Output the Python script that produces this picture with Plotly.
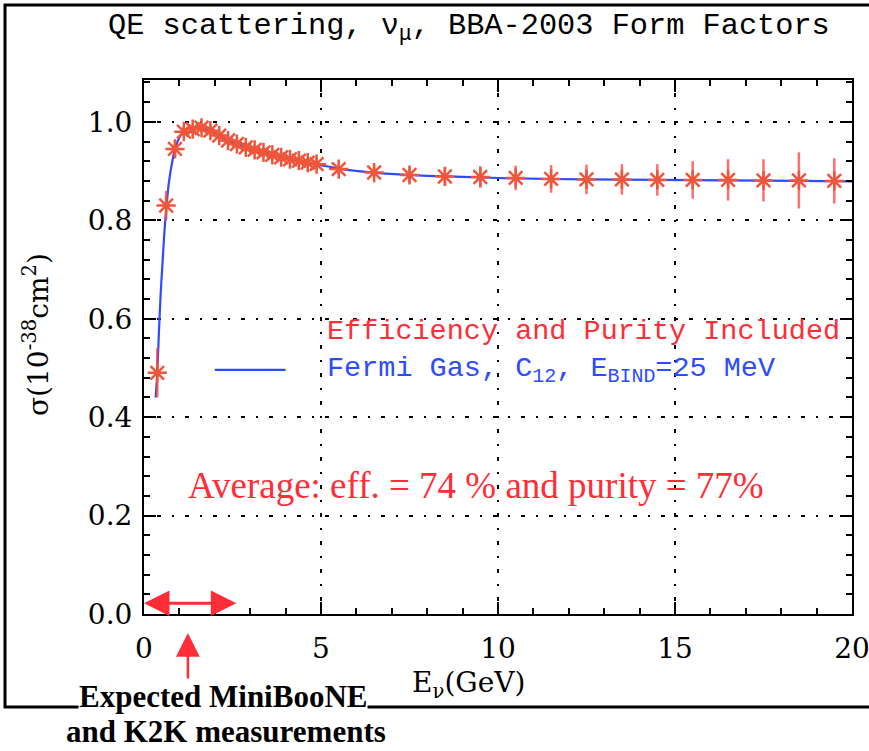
import plotly.graph_objects as go

# Measured QE cross section (efficiency and purity included), bin centres in GeV
e_meas = [0.375, 0.625, 0.875, 1.125, 1.375, 1.625, 1.875, 2.125, 2.375, 2.625,
          2.875, 3.125, 3.375, 3.625, 3.875, 4.125, 4.375, 4.625, 4.875,
          5.5, 6.5, 7.5, 8.5, 9.5, 10.5, 11.5, 12.5, 13.5, 14.5, 15.5,
          16.5, 17.5, 18.5, 19.5]
sigma_meas = [0.490, 0.830, 0.945, 0.980, 0.985, 0.988, 0.982, 0.972, 0.962, 0.955,
              0.948, 0.943, 0.938, 0.933, 0.928, 0.924, 0.921, 0.917, 0.914,
              0.904, 0.897, 0.892, 0.889, 0.888, 0.886, 0.884, 0.883, 0.883,
              0.882, 0.882, 0.882, 0.881, 0.881, 0.880]
sigma_err = [0.050, 0.030, 0.018, 0.010, 0.010, 0.010, 0.010, 0.010, 0.010, 0.010,
             0.010, 0.010, 0.010, 0.010, 0.010, 0.010, 0.010, 0.010, 0.012,
             0.010, 0.012, 0.016, 0.019, 0.022, 0.025, 0.028, 0.030, 0.031,
             0.032, 0.038, 0.042, 0.043, 0.057, 0.046]

# Fermi gas prediction, C12 with 25 MeV binding energy
e_fg = [0.33, 0.375, 0.42, 0.47, 0.52, 0.58, 0.625, 0.70, 0.80, 0.875, 1.0,
        1.125, 1.25, 1.4, 1.6, 1.85, 2.1, 2.35, 2.6, 3.1, 3.6, 4.1, 4.6, 5.0,
        5.5, 6.5, 7.5, 8.5, 9.5, 10.5, 12.5, 14.5, 16.5, 18.5, 20.0]
sigma_fg = [0.440, 0.490, 0.570, 0.650, 0.710, 0.780, 0.820, 0.875, 0.920, 0.945,
            0.968, 0.980, 0.986, 0.989, 0.988, 0.982, 0.972, 0.962, 0.955, 0.943,
            0.933, 0.924, 0.917, 0.912, 0.905, 0.897, 0.892, 0.889, 0.887, 0.885,
            0.883, 0.882, 0.881, 0.880, 0.879]

x_ticks = [0, 5, 10, 15, 20]
y_ticks = [0.0, 0.2, 0.4, 0.6, 0.8, 1.0]

RED = "rgb(255,45,55)"
BLUE = "rgb(45,75,255)"
AX_FONT = dict(family="DejaVu Serif", size=28, color="black")
MONO = "Liberation Mono"

# plot-area geometry in pixels
L, R, T, B = 144, 17, 80, 137
W, H = 869, 751
PW, PH = W - L - R, H - T - B


def px(xp):
    return (xp - L) / PW


def py(yp):
    return (H - B - yp) / PH


fig = go.Figure()

fig.add_trace(go.Scatter(
    x=e_fg, y=sigma_fg, mode="lines",
    line=dict(color=BLUE, width=2.2, shape="spline", smoothing=0.6),
    showlegend=False, hoverinfo="skip"))

fig.add_trace(go.Scatter(
    x=e_meas, y=sigma_meas, mode="markers",
    marker=dict(symbol="asterisk-open", size=16,
                line=dict(color=RED, width=2.5)),
    error_y=dict(type="data", array=sigma_err, visible=True,
                 color="rgba(255,60,60,0.75)", thickness=2.5, width=0),
    showlegend=False))

grid_dash = "2px,11px,4px,11px"
fig.update_xaxes(
    range=[0, 20], tickvals=x_ticks, ticktext=[str(v) for v in x_ticks],
    ticks="inside", ticklen=12, tickwidth=2, tickcolor="black",
    minor=dict(dtick=1, ticks="inside", ticklen=6, tickwidth=1.5,
               tickcolor="black", showgrid=False),
    showline=True, linewidth=2, linecolor="black", mirror="ticks",
    showgrid=True, gridcolor="black", gridwidth=1.5, griddash=grid_dash,
    zeroline=False, tickfont=AX_FONT, ticklabelstandoff=8,
    ticklabeloverflow="allow", automargin=False)
fig.update_yaxes(
    range=[0, 1.085], tickvals=y_ticks, ticktext=[f"{v:.1f}" for v in y_ticks],
    ticks="inside", ticklen=12, tickwidth=2, tickcolor="black",
    minor=dict(dtick=0.04, ticks="inside", ticklen=6, tickwidth=1.5,
               tickcolor="black", showgrid=False),
    showline=True, linewidth=2, linecolor="black", mirror="ticks",
    showgrid=True, gridcolor="black", gridwidth=1.5, griddash=grid_dash,
    zeroline=False, tickfont=AX_FONT, ticklabelstandoff=4, automargin=False)


def label(text, x, y, font, **kw):
    d = dict(text=text, xref="paper", yref="paper", x=x, y=y,
             xanchor="center", yanchor="middle", showarrow=False, font=font)
    d.update(kw)
    return d


annotations = [
    label("QE scattering, ν<sub>μ</sub>, BBA-2003 Form Factors",
          px(469), py(27), dict(family=MONO, size=30.3, color="black")),
    label("E<sub>ν</sub>(GeV)", px(468), py(684), AX_FONT),
    label("σ(10<sup>-38</sup>cm<sup>2</sup>)", px(36), py(335), AX_FONT,
          textangle=-90),
    dict(text="Efficiency and Purity Included", xref="x", yref="y",
         x=5.1, y=0.575, xanchor="left", yanchor="middle", showarrow=False,
         font=dict(family=MONO, size=28.5, color=RED)),
    dict(text="Fermi Gas, C<sub>12</sub>, E<sub>BIND</sub>=25 MeV", xref="x", yref="y",
         x=5.1, y=0.496, xanchor="left", yanchor="middle", showarrow=False,
         font=dict(family=MONO, size=28.5, color=BLUE)),
    label("Average: eff. = 74 % and purity = 77%", px(476), py(485),
          dict(family="Liberation Serif", size=37, color=RED)),
    # energy range of MiniBooNE / K2K
    dict(x=0, y=0.022, xref="x", yref="y", ax=2.65, ay=0.022, axref="x", ayref="y",
         text="", showarrow=True, arrowside="end+start", arrowhead=2,
         startarrowhead=2, arrowsize=1.7, startarrowsize=1.7,
         arrowwidth=3, arrowcolor=RED),
    dict(x=1.24, y=py(633), xref="x", yref="paper", ax=0, ay=58,
         text="", showarrow=True, arrowhead=2, arrowsize=1.9,
         arrowwidth=2.5, arrowcolor=RED),
    label("<b>Expected MiniBooNE</b>", px(223), py(696),
          dict(family="Liberation Serif", size=31, color="black"),
          bgcolor="white", borderpad=0),
    label("<b>and K2K measurements</b>", px(226), py(731),
          dict(family="Liberation Serif", size=31, color="black"),
          borderpad=0),
]

shapes = [
    # legend line sample
    dict(type="line", xref="x", yref="y", x0=2.0, x1=4.0, y0=0.496, y1=0.496,
         line=dict(color=BLUE, width=2.2)),
    # outer frame
    dict(type="rect", xref="paper", yref="paper",
         x0=px(5), x1=px(1200), y0=py(707), y1=py(5),
         line=dict(color="black", width=3), layer="below"),
]

fig.update_layout(
    width=W, height=H, autosize=False,
    margin=dict(l=L, r=R, t=T, b=B, autoexpand=False),
    paper_bgcolor="white", plot_bgcolor="white",
    annotations=annotations, shapes=shapes, showlegend=False)

fig.write_html("out.html")
